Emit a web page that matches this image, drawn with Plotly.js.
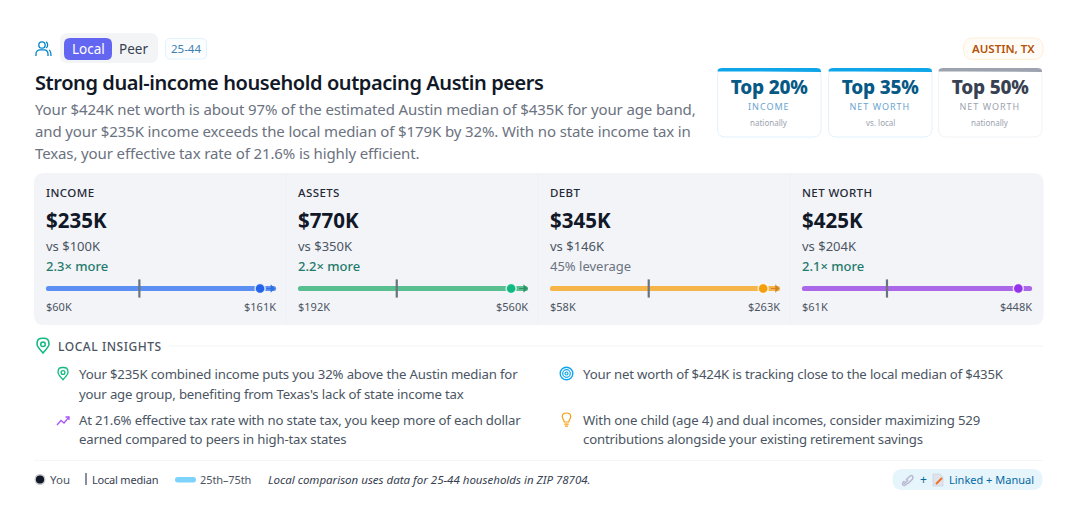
<!DOCTYPE html>
<html><head><meta charset="utf-8">
<script src="https://cdn.plot.ly/plotly-3.0.1.min.js"></script>
<style>html,body{margin:0;padding:0;background:#fff;overflow:hidden}#c{width:1080px;height:528px}</style>
</head><body><div id="c"></div>
<script>
const metricNames = ["INCOME","ASSETS","DEBT","NET WORTH"];
const youLabels = ["$235K","$770K","$345K","$425K"];
const vsLabels = ["vs $100K","vs $350K","vs $146K","vs $204K"];
const statusLabels = ["2.3× more","2.2× more","45% leverage","2.1× more"];
const lows = [60,192,58,61];
const highs = [161,560,263,448];
const medians = [101,350,146,204];
const youShown = [154,533,248,425];
const overflow = [true,true,true,false];
const lowLabels = ["$60K","$192K","$58K","$61K"];
const highLabels = ["$161K","$560K","$263K","$448K"];
const trackColors = ["#5b90f2","#58bf91","#f5b548","#aa68e8"];
const dotColors = ["#2563eb","#10b981","#f59e0b","#9333ea"];
const arrowColors = ["#2f6fe0","#2f8f65","#d0842a","#7c3aed"];
const rankTop = ["Top 20%","Top 35%","Top 50%"];
const rankLabel = ["INCOME","NET WORTH","NET WORTH"];
const rankSub = ["nationally","vs. local","nationally"];
const summaryLines = [
 "Your $424K net worth is about 97% of the estimated Austin median of $435K for your age band,",
 "and your $235K income exceeds the local median of $179K by 32%. With no state income tax in",
 "Texas, your effective tax rate of 21.6% is highly efficient."];
const insightLeft = [
 [374,"Your $235K combined income puts you 32% above the Austin median for"],
 [393.5,"your age group, benefiting from Texas's lack of state income tax"],
 [420,"At 21.6% effective tax rate with no state tax, you keep more of each dollar"],
 [438.5,"earned compared to peers in high-tax states"]];
const insightRight = [
 [374,"Your net worth of $424K is tracking close to the local median of $435K"],
 [420,"With one child (age 4) and dual incomes, consider maximizing 529"],
 [438.5,"contributions alongside your existing retirement savings"]];

const FONT = "Noto Sans";
const ann = [], spacing = {}, shapes = [];
function T(x,y,text,o){o=o||{};
 const i=ann.length;
 ann.push({xref:o.xref||'x',yref:o.yref||'y',x:x,y:y,text:text,showarrow:false,borderpad:0,borderwidth:0,
  xanchor:o.anchor||'left',yanchor:'middle',align:o.anchor||'left',
  font:{family:FONT,size:o.size||14,color:o.color||'#4b5563',weight:o.weight||400,style:o.style||'normal'}});
 if(o.sp)spacing[i]=o.sp;
}
function rr(x0,y0,x1,y1,r){return `M${x0+r},${y0}L${x1-r},${y0}Q${x1},${y0} ${x1},${y0+r}L${x1},${y1-r}Q${x1},${y1} ${x1-r},${y1}L${x0+r},${y1}Q${x0},${y1} ${x0},${y1-r}L${x0},${y0+r}Q${x0},${y0} ${x0+r},${y0}Z`;}
function circ(cx,cy,r){const k=r*0.5523;return `M${cx-r},${cy}C${cx-r},${cy-k} ${cx-k},${cy-r} ${cx},${cy-r}C${cx+k},${cy-r} ${cx+r},${cy-k} ${cx+r},${cy}C${cx+r},${cy+k} ${cx+k},${cy+r} ${cx},${cy+r}C${cx-k},${cy+r} ${cx-r},${cy+k} ${cx-r},${cy}Z`;}
function S(path,fill,line,w){shapes.push({type:'path',xref:'x',yref:'y',path:path,fillcolor:fill||'rgba(0,0,0,0)',line:{color:line||'rgba(0,0,0,0)',width:w===undefined?(line?1:0):w},layer:'below'});}
function pin(cx,cy,s,c,w){
 const top=cy-s*1.2,bot=cy+s*1.25;
 S(`M${cx},${bot}C${cx-s*0.5},${bot-s*0.6} ${cx-s},${cy+s*0.2} ${cx-s},${cy-s*0.2}C${cx-s},${top-s*0.05} ${cx-s*0.5},${top} ${cx},${top}C${cx+s*0.5},${top} ${cx+s},${top-s*0.05} ${cx+s},${cy-s*0.2}C${cx+s},${cy+s*0.2} ${cx+s*0.5},${bot-s*0.6} ${cx},${bot}Z`,null,c,w);
 S(circ(cx,cy-s*0.2,s*0.38),null,c,w);
}

// toolbar
const sky='#0284c7';
S(circ(42,45,3.2),null,sky,1.3);
S(`M36,56L36,54C36,51.4 38,49.8 40,49.8L44,49.8C46.4,49.8 48,51.4 48,54L48,56`,null,sky,1.3);
S(`M46,41.8C48,42.4 48.4,47 46,48`,null,sky,1.3);
S(`M49,50C50.5,50.6 51,52.4 51,56`,null,sky,1.3);
S(rr(60,33,158,63,8),'#f3f4f6');
S(rr(64,38,112,60,6),'#6366f1');
T(88,49,"Local",{anchor:'center',size:13.5,color:'#ffffff'});
T(133.5,49,"Peer",{anchor:'center',size:13.5,color:'#374151'});
S(rr(165.5,38.5,206.5,59,5),'#fbfdff','#e0f2fe',1);
T(186,48.8,"25-44",{anchor:'center',size:11.5,color:'#3f7fae'});
S(rr(963.5,38,1043,59.5,10),'#fffcf7','#ffedd5',1);
T(1003.3,48.5,"AUSTIN, TX",{anchor:'center',size:11.5,color:'#b45309',weight:600});

// title + summary
T(35,82.5,"Strong dual-income household outpacing Austin peers",{size:20,color:'#111827',weight:600,sp:'-0.42px'});
summaryLines.forEach((s,i)=>T(35,108.5+22*i,s,{size:15,color:'#6b7280',sp:'-0.12px'}));

// rank cards
const cardX=[[717.5,821],[828.5,932],[938.5,1042]];
rankTop.forEach((t,i)=>{
 const [a,b]=cardX[i], gray=i===2, m=(a+b)/2;
 S(rr(a,68.5,b,137,8),'#ffffff',gray?'#f1f3f6':'#e0f2fe',1);
 S(`M${a},72L${a},71Q${a},68 ${a+5},68L${b-5},68Q${b},68 ${b},71L${b},72Q${m},71.4 ${a},71.6Z`,gray?'#9ca3af':'#0ea5e9');
 T(m,86.5,t,{anchor:'center',size:19,color:gray?'#374151':'#075985',weight:800,sp:'-0.2px'});
 T(m,106.5,rankLabel[i],{anchor:'center',size:9,color:gray?'#9ca3af':'#6aa5cf',sp:'1px'});
 T(m,122.5,rankSub[i],{anchor:'center',size:8,color:'#9ca3af'});
});

// metric panel
S(rr(34,173,1043.5,325,10),'#f3f4f8');
[286,538,790].forEach(x=>S(`M${x},173L${x},325`,null,'#eff0f5',1));
const textX=[45.5,297.5,549.5,801.5], tracks=[[46,276],[298,528],[550,780],[802,1032]];
const traces=[{x:[],y:[],type:'scatter',xaxis:'x',yaxis:'y',showlegend:false}];
const layoutAxes={};
metricNames.forEach((n,i)=>{
 const k=i+2, xa='x'+k, ya='y'+k, lx=textX[i];
 T(lx,192.5,n,{size:11.5,color:'#1f2937',weight:500,sp:'0.4px'});
 T(lx,220,youLabels[i],{size:20.5,color:'#111827',weight:700});
 T(lx,246,vsLabels[i],{size:13,color:'#4b5563'});
 T(lx,266,statusLabels[i],{size:13,color:i===2?'#6b7280':'#1f7a6b',weight:i===2?400:500});
 T(lows[i],306.5,lowLabels[i],{xref:xa,size:11,color:'#4b5563'});
 T(highs[i],306.5,highLabels[i],{xref:xa,anchor:'right',size:11,color:'#4b5563'});
 layoutAxes['xaxis'+k]={domain:[tracks[i][0]/1080,tracks[i][1]/1080],range:[lows[i],highs[i]],visible:false,anchor:ya,fixedrange:true};
 layoutAxes['yaxis'+k]={domain:[(528-298)/528,(528-279)/528],range:[-1,1],visible:false,anchor:xa,fixedrange:true};
 const cap=(highs[i]-lows[i])*2.5/230;
 traces.push({type:'bar',orientation:'h',y:[0],base:[lows[i]+cap],x:[highs[i]-lows[i]-2*cap],width:[0.55],xaxis:xa,yaxis:ya,showlegend:false,cliponaxis:false,marker:{color:trackColors[i],line:{width:0}},hoverinfo:'skip'});
 traces.push({type:'scatter',mode:'markers',x:[lows[i]+cap,highs[i]-cap],y:[0,0],xaxis:xa,yaxis:ya,showlegend:false,cliponaxis:false,marker:{symbol:'circle',size:5.2,color:trackColors[i],line:{width:0}},hoverinfo:'skip'});
 traces.push({type:'scatter',mode:'markers',x:[medians[i]],y:[0],xaxis:xa,yaxis:ya,showlegend:false,cliponaxis:false,marker:{symbol:'line-ns',size:13,line:{color:'#6b7280',width:2.2}},hoverinfo:'skip'});
 traces.push({type:'scatter',mode:'markers',x:[youShown[i]],y:[0],xaxis:xa,yaxis:ya,showlegend:false,cliponaxis:false,marker:{symbol:'circle',size:10,color:dotColors[i],line:{color:'rgba(255,255,255,0.75)',width:1.5}},hoverinfo:'skip'});
 if(overflow[i]){
  ann.push({xref:xa,yref:ya,x:highs[i]-0.5,y:0,ax:-10,ay:0,axref:'pixel',ayref:'pixel',text:'',showarrow:true,arrowhead:1,arrowsize:1.4,arrowwidth:1,arrowcolor:arrowColors[i],standoff:0,startstandoff:0});
 }
});

// insights
pin(43,345.5,6,'#10b981',1.5);
T(58,346.5,"LOCAL INSIGHTS",{size:12,color:'#4b5563',weight:500,sp:'0.55px'});
S(`M169,346L1043,346`,null,'#f3f4f6',1);
pin(63,373.5,5,'#10b981',1.3);
S(`M57,425L61,420.5L64,423L69,417`,null,'#a855f7',1.3);
S(`M65.5,417L69,417L69,420`,null,'#a855f7',1.3);
S(circ(566.5,373.5,6.3),null,'#0ea5e9',1.4);
S(circ(566.5,373.5,3.8),null,'#0ea5e9',1.2);
S(circ(566.5,373.5,1.5),null,'#0ea5e9',1.2);
S(`M564.2,422C564.2,420 562.3,419 562.3,416.6C562.3,414.2 564.2,413 566.5,413C568.8,413 570.7,414.2 570.7,416.6C570.7,419 568.8,420 568.8,422Z`,null,'#f59e0b',1.2);
S(`M564.3,424.2L568.7,424.2M565,426.2L568,426.2`,null,'#f59e0b',1.2);
insightLeft.forEach(([y,s])=>T(78.5,y,s,{size:13.2,color:'#4b5563',sp:'-0.17px'}));
insightRight.forEach(([y,s])=>T(582.5,y,s,{size:13.2,color:'#4b5563',sp:'-0.17px'}));

// footer
S(`M34,460.5L1043,460.5`,null,'#f5f6f8',1);
S(circ(40,479.5,4.8),'#111827','#c5c8ce',1.4);
T(50,479.5,"You",{size:11.5,color:'#4b5563'});
S(`M86,473L86,485`,null,'#6b7280',1.6);
T(91.5,479.5,"Local median",{size:11,color:'#374151',sp:'-0.2px'});
S(rr(175,477,196,482.5,2.7),'#7dd3fc');
T(200,479.5,"25th–75th",{size:11,color:'#4b5563',sp:'-0.1px'});
T(268,479.5,"Local comparison uses data for 25-44 households in ZIP 78704.",{size:11.5,color:'#374151',style:'italic'});
S(rr(892.5,469,1042.5,490,10.5),'#e6f4fc');
S(`M904,484L908,480M908,483.5L912.5,479C914,477 912,474.5 910,476L906,480M904.5,481L903,482.5C901.5,484.5 903.5,486.5 905.5,485L908,483`,null,'#b9b7cf',1.5);
T(923,479.5,"+",{anchor:'center',size:12,color:'#0369a1'});
S(`M933,474L940,474L943,477L943,486L933,486Z`,'#dfe3ea','#c9ced8',0.6);
S(`M936,484L942,478`,null,'#f0702a',2);
T(949,479.5,"Linked + Manual",{size:11,color:'#0369a1'});

const layout=Object.assign({
 width:1080,height:528,margin:{l:0,r:0,t:0,b:0,pad:0},paper_bgcolor:'#ffffff',plot_bgcolor:'rgba(0,0,0,0)',
 showlegend:false,bargap:0,
 xaxis:{domain:[0,1],range:[0,1080],visible:false,fixedrange:true,anchor:'y'},
 yaxis:{domain:[0,1],range:[528,0],visible:false,fixedrange:true,anchor:'x'},
 shapes:shapes,annotations:ann,font:{family:FONT}
},layoutAxes);
Plotly.newPlot('c',traces,layout,{staticPlot:true,displayModeBar:false}).then(()=>{
 Object.keys(spacing).forEach(i=>{
  const t=document.querySelector(`.annotation[data-index="${i}"] text`);
  if(t)t.style.letterSpacing=spacing[i];
 });
});
</script></body></html>
